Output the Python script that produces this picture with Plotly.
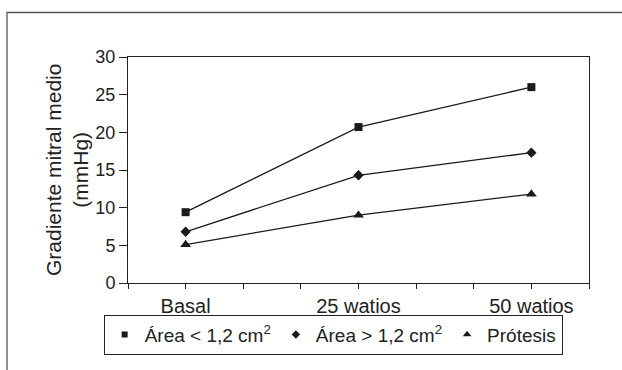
import plotly.graph_objects as go

categories = ["Basal", "25 watios", "50 watios"]
cat_pos = [1, 4, 7]
area_menor = [9.4, 20.7, 26.0]
area_mayor = [6.8, 14.3, 17.3]
protesis = [5.1, 9.0, 11.8]
series_names = ["Área < 1,2 cm<sup>2</sup>", "Área > 1,2 cm<sup>2</sup>", "Prótesis"]
symbols = ["square", "diamond", "triangle-up"]
sizes = [8, 8, 9.5]
legend_sizes = [6, 6.5, 7.5]
y_title = "Gradiente mitral medio<br>(mmHg)"

fig = go.Figure()
ink = "#1a1a1a"
for name, vals, sym, sz in zip(series_names, [area_menor, area_mayor, protesis], symbols, sizes):
    fig.add_trace(go.Scatter(x=cat_pos, y=vals, mode="lines+markers", showlegend=False,
                             line=dict(color=ink, width=1.3),
                             marker=dict(symbol=sym, size=sz, color=ink)))
for name, vals, sym, sz in zip(series_names, [area_menor, area_mayor, protesis], symbols, legend_sizes):
    fig.add_trace(go.Scatter(x=[None], y=[None], mode="markers", name=name,
                             marker=dict(symbol=sym, size=sz, color=ink)))

fig.update_layout(
    width=622, height=370,
    margin=dict(l=128, r=33, t=57, b=87),
    paper_bgcolor="white", plot_bgcolor="white",
    font=dict(family="Liberation Sans, Arial, sans-serif", size=18, color="#222"),
    xaxis=dict(range=[0, 8], tickvals=cat_pos, ticktext=categories, ticks="outside",
               ticklen=5, tickcolor="#222", showgrid=False, zeroline=False,
               tickfont=dict(size=20),
               showline=True, linecolor="#222", linewidth=1, mirror=True,
               minor=dict(dtick=1, tick0=0, ticks="outside", ticklen=5, tickcolor="#222", showgrid=False)),
    yaxis=dict(range=[0, 30], dtick=5, ticks="outside", ticklen=8, tickcolor="#222",
               showgrid=False, zeroline=False, showline=True, linecolor="#222",
               linewidth=1, mirror=True, tickfont=dict(size=18)),
    annotations=[dict(text=y_title, textangle=-90, xref="paper", yref="paper",
                      x=(67 - 128) / 461, y=0.5, xanchor="center", yanchor="middle",
                      showarrow=False, font=dict(size=21, color="#222"))],
    legend=dict(orientation="h", x=0.445, xanchor="center", y=-0.14, yanchor="top",
                bordercolor="#222", borderwidth=1, font=dict(size=19),
                itemwidth=30, tracegroupgap=0),
    shapes=[dict(type="rect", xref="paper", yref="paper",
                 x0=(7 - 128) / 461, x1=(640 - 128) / 461,
                 y0=(283 - 400) / 226, y1=(283 - 12.5) / 226,
                 line=dict(color="#555", width=1.3))],
)

fig.write_html("out.html")
